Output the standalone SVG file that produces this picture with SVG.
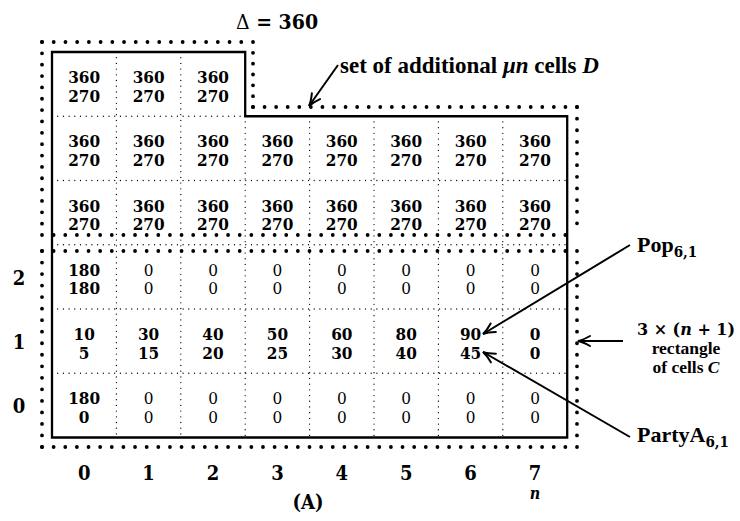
<svg xmlns="http://www.w3.org/2000/svg" width="740" height="521" viewBox="0 0 740 521">
<style>
.bg{fill:#fff}
.solid{fill:none;stroke:#000;stroke-width:2.3;stroke-linejoin:miter}
.big{fill:none;stroke:#000;stroke-width:3.8;stroke-linecap:round;stroke-dasharray:0 1}
.grid{fill:none;stroke:#000;stroke-width:1.3;stroke-linecap:round;stroke-dasharray:0 5.7}
.arr{fill:none;stroke:#000;stroke-width:2;marker-end:url(#ah)}
.n{font-family:"DejaVu Serif Condensed","DejaVu Serif",serif;font-stretch:condensed;font-size:17px;text-anchor:middle;fill:#000}
.b{font-weight:bold}
.r{font-weight:normal}
.ax{font-family:"DejaVu Serif Condensed","DejaVu Serif",serif;font-stretch:condensed;font-size:20px;font-weight:bold;text-anchor:middle}
.ttl{font-size:21px}
.nn{font-size:16px;font-style:italic}
.lab{font-family:"Liberation Serif",serif;font-weight:bold;fill:#000}
.it{font-style:italic}
.sub{font-family:"DejaVu Serif Condensed","DejaVu Serif",serif;font-stretch:condensed;font-size:15px}
</style>
<defs>
<marker id="ah" viewBox="-14 -7 16 14" markerWidth="16" markerHeight="14" refX="0" refY="0" orient="auto" markerUnits="userSpaceOnUse">
<path d="M-12,-5 Q-5,-1 0,0 Q-5,1 -12,5" fill="none" stroke="#000" stroke-width="2" stroke-linecap="round"/>
</marker>
</defs>
<rect class="bg" x="0" y="0" width="740" height="521"/>

<g id="grid">
<g id="outline-D">
<line class="big" x1="42" y1="42" x2="253" y2="42" pathLength="18"/>
<line class="big" x1="253" y1="42" x2="253" y2="107" pathLength="6"/>
<line class="big" x1="253" y1="107" x2="577" y2="107" pathLength="28"/>
<line class="big" x1="577" y1="107" x2="577" y2="235" pathLength="11"/>
<line class="big" x1="42" y1="235" x2="577" y2="235" pathLength="46"/>
<line class="big" x1="42" y1="42" x2="42" y2="235" pathLength="17"/>
</g>
<g id="outline-C">
<line class="big" x1="42" y1="251" x2="577" y2="251" pathLength="46"/>
<line class="big" x1="577" y1="251" x2="577" y2="447" pathLength="17"/>
<line class="big" x1="42" y1="447" x2="577" y2="447" pathLength="46"/>
<line class="big" x1="42" y1="251" x2="42" y2="447" pathLength="17"/>
</g>
<g id="cell-grid">
<line class="grid" x1="116.4" y1="52" x2="116.4" y2="437.5"/>
<line class="grid" x1="180.8" y1="52" x2="180.8" y2="437.5"/>
<line class="grid" x1="245.2" y1="116.25" x2="245.2" y2="437.5"/>
<line class="grid" x1="309.6" y1="116.25" x2="309.6" y2="437.5"/>
<line class="grid" x1="374" y1="116.25" x2="374" y2="437.5"/>
<line class="grid" x1="438.4" y1="116.25" x2="438.4" y2="437.5"/>
<line class="grid" x1="502.8" y1="116.25" x2="502.8" y2="437.5"/>
<line class="grid" x1="52" y1="116.25" x2="245.2" y2="116.25"/>
<line class="grid" x1="52" y1="180.5" x2="567.2" y2="180.5"/>
<line class="grid" x1="52" y1="244.75" x2="567.2" y2="244.75"/>
<line class="grid" x1="52" y1="309" x2="567.2" y2="309"/>
<line class="grid" x1="52" y1="373.25" x2="567.2" y2="373.25"/>
</g>
<path id="outline-solid" class="solid" d="M52,52 H245.2 V116.25 H567.2 V437.5 H52 Z"/>
</g>

<g id="cells-D">
<g id="d-0-0"><text class="n b" x="84.2" y="83">360<tspan x="84.2" dy="18.5">270</tspan></text></g>
<g id="d-0-1"><text class="n b" x="148.6" y="83">360<tspan x="148.6" dy="18.5">270</tspan></text></g>
<g id="d-0-2"><text class="n b" x="213" y="83">360<tspan x="213" dy="18.5">270</tspan></text></g>

<g id="d-1-0"><text class="n b" x="84.2" y="147.25">360<tspan x="84.2" dy="18.5">270</tspan></text></g>
<g id="d-1-1"><text class="n b" x="148.6" y="147.25">360<tspan x="148.6" dy="18.5">270</tspan></text></g>
<g id="d-1-2"><text class="n b" x="213" y="147.25">360<tspan x="213" dy="18.5">270</tspan></text></g>
<g id="d-1-3"><text class="n b" x="277.4" y="147.25">360<tspan x="277.4" dy="18.5">270</tspan></text></g>
<g id="d-1-4"><text class="n b" x="341.8" y="147.25">360<tspan x="341.8" dy="18.5">270</tspan></text></g>
<g id="d-1-5"><text class="n b" x="406.2" y="147.25">360<tspan x="406.2" dy="18.5">270</tspan></text></g>
<g id="d-1-6"><text class="n b" x="470.6" y="147.25">360<tspan x="470.6" dy="18.5">270</tspan></text></g>
<g id="d-1-7"><text class="n b" x="535" y="147.25">360<tspan x="535" dy="18.5">270</tspan></text></g>

<g id="d-2-0"><text class="n b" x="84.2" y="211.5">360<tspan x="84.2" dy="18.5">270</tspan></text></g>
<g id="d-2-1"><text class="n b" x="148.6" y="211.5">360<tspan x="148.6" dy="18.5">270</tspan></text></g>
<g id="d-2-2"><text class="n b" x="213" y="211.5">360<tspan x="213" dy="18.5">270</tspan></text></g>
<g id="d-2-3"><text class="n b" x="277.4" y="211.5">360<tspan x="277.4" dy="18.5">270</tspan></text></g>
<g id="d-2-4"><text class="n b" x="341.8" y="211.5">360<tspan x="341.8" dy="18.5">270</tspan></text></g>
<g id="d-2-5"><text class="n b" x="406.2" y="211.5">360<tspan x="406.2" dy="18.5">270</tspan></text></g>
<g id="d-2-6"><text class="n b" x="470.6" y="211.5">360<tspan x="470.6" dy="18.5">270</tspan></text></g>
<g id="d-2-7"><text class="n b" x="535" y="211.5">360<tspan x="535" dy="18.5">270</tspan></text></g>
</g>

<g id="cells-C">
<g id="c-2-0"><text class="n b" x="84.2" y="275.75">180<tspan x="84.2" dy="18.5">180</tspan></text></g>
<g id="c-2-1"><text class="n r" x="148.6" y="275.75">0<tspan x="148.6" dy="18.5">0</tspan></text></g>
<g id="c-2-2"><text class="n r" x="213" y="275.75">0<tspan x="213" dy="18.5">0</tspan></text></g>
<g id="c-2-3"><text class="n r" x="277.4" y="275.75">0<tspan x="277.4" dy="18.5">0</tspan></text></g>
<g id="c-2-4"><text class="n r" x="341.8" y="275.75">0<tspan x="341.8" dy="18.5">0</tspan></text></g>
<g id="c-2-5"><text class="n r" x="406.2" y="275.75">0<tspan x="406.2" dy="18.5">0</tspan></text></g>
<g id="c-2-6"><text class="n r" x="470.6" y="275.75">0<tspan x="470.6" dy="18.5">0</tspan></text></g>
<g id="c-2-7"><text class="n r" x="535" y="275.75">0<tspan x="535" dy="18.5">0</tspan></text></g>

<g id="c-1-0"><text class="n b" x="84.2" y="340">10<tspan x="84.2" dy="18.5">5</tspan></text></g>
<g id="c-1-1"><text class="n b" x="148.6" y="340">30<tspan x="148.6" dy="18.5">15</tspan></text></g>
<g id="c-1-2"><text class="n b" x="213" y="340">40<tspan x="213" dy="18.5">20</tspan></text></g>
<g id="c-1-3"><text class="n b" x="277.4" y="340">50<tspan x="277.4" dy="18.5">25</tspan></text></g>
<g id="c-1-4"><text class="n b" x="341.8" y="340">60<tspan x="341.8" dy="18.5">30</tspan></text></g>
<g id="c-1-5"><text class="n b" x="406.2" y="340">80<tspan x="406.2" dy="18.5">40</tspan></text></g>
<g id="c-1-6"><text class="n b" x="470.6" y="340">90<tspan x="470.6" dy="18.5">45</tspan></text></g>
<g id="c-1-7"><text class="n b" x="535" y="340">0<tspan x="535" dy="18.5">0</tspan></text></g>

<g id="c-0-0"><text class="n b" x="84.2" y="404.25">180<tspan x="84.2" dy="18.5">0</tspan></text></g>
<g id="c-0-1"><text class="n r" x="148.6" y="404.25">0<tspan x="148.6" dy="18.5">0</tspan></text></g>
<g id="c-0-2"><text class="n r" x="213" y="404.25">0<tspan x="213" dy="18.5">0</tspan></text></g>
<g id="c-0-3"><text class="n r" x="277.4" y="404.25">0<tspan x="277.4" dy="18.5">0</tspan></text></g>
<g id="c-0-4"><text class="n r" x="341.8" y="404.25">0<tspan x="341.8" dy="18.5">0</tspan></text></g>
<g id="c-0-5"><text class="n r" x="406.2" y="404.25">0<tspan x="406.2" dy="18.5">0</tspan></text></g>
<g id="c-0-6"><text class="n r" x="470.6" y="404.25">0<tspan x="470.6" dy="18.5">0</tspan></text></g>
<g id="c-0-7"><text class="n r" x="535" y="404.25">0<tspan x="535" dy="18.5">0</tspan></text></g>
</g>

<g id="axes">
<text class="ax" x="19" y="285">2</text>
<text class="ax" x="19" y="349">1</text>
<text class="ax" x="19" y="413">0</text>
<text class="ax" x="84.2" y="480">0</text>
<text class="ax" x="148.6" y="480">1</text>
<text class="ax" x="213" y="480">2</text>
<text class="ax" x="277.4" y="480">3</text>
<text class="ax" x="341.8" y="480">4</text>
<text class="ax" x="406.2" y="480">5</text>
<text class="ax" x="470.6" y="480">6</text>
<text class="ax" x="535" y="480">7</text>
<text class="ax nn" x="535" y="499">n</text>
<text class="ax" x="308" y="509">(A)</text>
</g>

<g id="title"><text class="ax ttl" x="277" y="29"><tspan font-weight="normal">Δ</tspan> = 360</text></g>

<g id="label-D"><text class="lab" x="340" y="73" style="font-size:23px">set of additional <tspan class="it">μn</tspan> cells <tspan class="it">D</tspan></text></g>
<g id="label-pop"><text class="lab" x="637" y="252" style="font-size:22px">Pop<tspan class="sub" dy="5">6,1</tspan></text></g>
<g id="label-party"><text class="lab" x="637" y="442" style="font-size:22px">PartyA<tspan class="sub" dy="5">6,1</tspan></text></g>
<g id="label-C">
<text x="686" y="335" font-family="DejaVu Serif,serif" font-weight="bold" font-size="16" text-anchor="middle">3 × (<tspan class="it">n</tspan> + 1)</text>
<text class="lab" x="686" y="354" font-size="17.5" text-anchor="middle">rectangle</text>
<text class="lab" x="686" y="373" font-size="17.5" text-anchor="middle">of cells <tspan class="it">C</tspan></text>
</g>

<g id="connectors">
<line class="arr" x1="338" y1="65" x2="309" y2="106"/>
<line class="arr" x1="630" y1="245" x2="483" y2="334"/>
<line class="arr" x1="630" y1="437" x2="483" y2="352"/>
<line class="arr" x1="623" y1="341" x2="578" y2="341"/>
</g>
</svg>
